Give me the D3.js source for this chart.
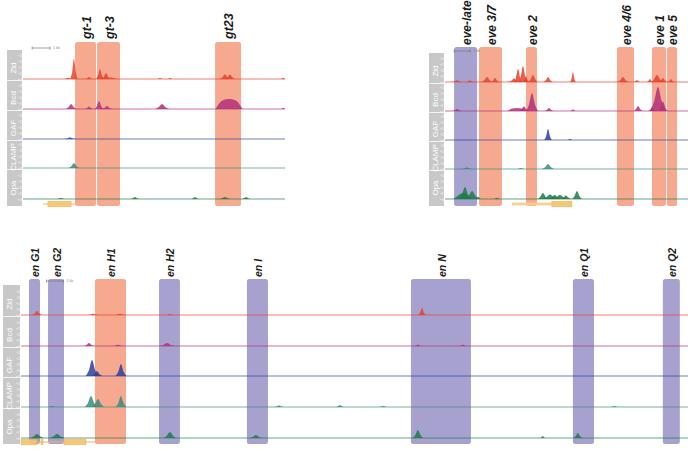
<!DOCTYPE html>
<html><head><meta charset="utf-8">
<script src="https://cdn.jsdelivr.net/npm/d3@7"></script>
<style>body{margin:0;background:#fff} svg{display:block}</style>
</head><body>
<svg id="c" width="688" height="449"></svg>
<script>
// ---------------- DATA ----------------
const trackNames = ["Zld", "Bcd", "GAF", "CLAMP", "Opa"];
const signalTicks = [0, 5, 10, 15, 20];
const scaleBarLabel = "1 kb";

// peaks: [position (kb), signal, half-width (kb), shoulder]
// Panel A : giant locus
const gtEnhancers = ["gt-1", "gt-3", "gt23"];
const gtStart = [2.79, 4.02, 10.60];
const gtEnd = [3.96, 5.30, 12.05];
const gtType = ["early", "early", "early"];
const gtZld = [[2.4,0.8,0.3],[2.73,16.7,0.2],[3.57,1.7,0.2],[4.18,8.3,0.22],[4.52,5,0.25],[4.8,1.2,0.4],[7.53,0.8,0.2],[8.09,0.8,0.2],[11.15,3.8,0.3],[11.43,3.8,0.3],[14.4,1,0.12]];
const gtBcd = [[2.57,4.2,0.3],[3.57,2.1,0.22],[4.13,6.7,0.25],[4.57,2.5,0.3],[7.64,4.2,0.4],[11.38,8.3,0.75,0.85],[14.4,1,0.12]];
const gtGAF = [[2.51,1.2,0.35]];
const gtCLAMP = [[2.73,4.2,0.3]];
const gtOpa = [[2.0,0.8,0.3],[6.13,1.7,0.25],[9.48,1.7,0.2],[11.15,1.7,0.35],[12.33,1.7,0.25]];
const gtGeneLine = [1.0, 2.79];
const gtGeneUTR = [];
const gtGeneExons = [[1.28, 2.57]];

// Panel B : even-skipped locus
const eveEnhancers = ["eve-late", "eve 3/7", "eve 2", "eve 4/6", "eve 1", "eve 5"];
const eveStart = [0.44, 1.99, 4.92, 10.58, 12.76, 13.69];
const eveEnd = [1.87, 3.42, 5.60, 11.64, 13.63, 14.32];
const eveType = ["late", "early", "early", "early", "early", "early"];
const eveZld = [[0.62,1.5,0.3],[1.43,1.2,0.3],[2.49,4.2,0.35],[2.99,3.3,0.25],[4.17,3,0.35],[4.42,10.8,0.25],[4.73,13.3,0.28],[4.92,5,0.2],[5.35,5.8,0.3],[6.29,4.2,0.28],[7.84,8.3,0.17],[10.95,4.2,0.35],[11.82,1.7,0.2],[12.63,2.5,0.2],[13.07,5.8,0.4],[13.44,3.3,0.25],[13.94,2.5,0.2]];
const eveBcd = [[0.62,1.7,0.3],[4.36,2.5,0.6,0.8],[4.79,4,0.3],[5.29,15,0.38],[6.35,2.5,0.28],[7.84,1.5,0.15],[11.89,4.2,0.28],[12.76,3.3,0.22],[13.13,20,0.48,0.4],[13.44,8,0.3]];
const eveGAF = [[6.29,9.2,0.24],[7.65,0.8,0.2]];
const eveCLAMP = [[1.24,1.2,0.4],[4.6,0.8,0.3],[6.29,4.2,0.38]];
const eveOpa = [[1.0,5,0.6,0.6],[1.12,10,0.4],[1.56,6.7,0.45],[1.93,2,0.2],[3.11,1,0.2],[5.97,5,0.35],[6.41,3.8,0.5],[6.7,3.3,0.4],[7.03,3.3,0.5],[7.4,3,0.35],[8.09,6.7,0.32]];
const eveGeneLine = [4.04, 7.78];
const eveGeneUTR = [[4.04, 6.53]];
const eveGeneExons = [[6.53, 7.78]];

// Panel C : engrailed locus
const enEnhancers = ["en G1", "en G2", "en H1", "en H2", "en I", "en N", "en Q1", "en Q2"];
const enStart = [0.47, 1.59, 4.35, 8.12, 13.29, 22.94, 32.47, 37.76];
const enEnd = [1.12, 2.53, 6.18, 9.35, 14.53, 26.47, 33.71, 38.76];
const enType = ["late", "late", "early", "late", "late", "late", "late", "late"];
const enZld = [[0.94,3.3,0.28],[4.24,1,0.3],[5.82,1,0.3],[8.76,0.8,0.3],[23.59,5.8,0.22]];
const enBcd = [[4.0,2.5,0.3],[5.71,1,0.3],[8.59,2.5,0.45],[23.35,1.2,0.2],[26.0,1,0.2]];
const enGAF = [[4.18,13.3,0.38],[4.47,4.2,0.32],[5.88,10,0.32]];
const enCLAMP = [[1.82,0.8,0.3],[4.12,9.2,0.38],[4.53,6.7,0.38],[5.88,9.2,0.32],[15.18,1.2,0.3],[18.76,1.7,0.25],[21.3,0.8,0.3],[34.9,0.8,0.3]];
const enOpa = [[0.94,3.3,0.4],[2.12,3.3,0.45],[8.76,5,0.38],[13.82,2.5,0.38],[23.35,6.7,0.32],[30.7,1.7,0.15],[32.76,4.2,0.27]];
const enGeneLine = [0, 4.35];
const enGeneUTR = [];
const enGeneExons = [[0, 0.94], [1.18, 1.29], [2.53, 3.82]];

// ---------------- STYLE / LAYOUT ----------------
const trackColors = ["#e8412e", "#b2307d", "#2e3e9c", "#3b8c80", "#1f7a48"];
const boxColors = { early: "#f6a98f", late: "#a6a1cf" };
const font = "'Liberation Sans', Arial, sans-serif";

const panels = [
  { name: "A", kbMax: 14.5, x0: 25, x1: 285, col: [7, 22], colY: [50, 206],
    baselines: [79, 109, 139, 168, 199], boxY: [42, 206], labelY: 39, labelSize: 12.5,
    geneY: 204, barY: 48, barKb: 0.4,
    enh: gtEnhancers, start: gtStart, end: gtEnd, type: gtType,
    tracks: [gtZld, gtBcd, gtGAF, gtCLAMP, gtOpa],
    geneLine: gtGeneLine, geneUTR: gtGeneUTR, geneExons: gtGeneExons },
  { name: "B", kbMax: 15.0, x0: 447, x1: 688, col: [429, 444], colY: [53, 206],
    baselines: [82, 111, 140, 169, 199], boxY: [47, 206], labelY: 45, labelSize: 12,
    geneY: 204, barY: 51, barKb: 0.45,
    enh: eveEnhancers, start: eveStart, end: eveEnd, type: eveType,
    tracks: [eveZld, eveBcd, eveGAF, eveCLAMP, eveOpa],
    geneLine: eveGeneLine, geneUTR: eveGeneUTR, geneExons: eveGeneExons },
  { name: "C", kbMax: 39.24, x0: 21, x1: 688, col: [3, 20], colY: [285, 444],
    baselines: [315, 346, 376, 407, 438], boxY: [279, 444], labelY: 277, labelSize: 10.5,
    geneY: 442, barY: 281, barKb: 1.5,
    enh: enEnhancers, start: enStart, end: enEnd, type: enType,
    tracks: [enZld, enBcd, enGAF, enCLAMP, enOpa],
    geneLine: enGeneLine, geneUTR: enGeneUTR, geneExons: enGeneExons }
];

const svg = d3.select("#c");

function peakPoints(p) {
  const [c, h, w, s] = p;
  const sh = s === undefined ? 0.35 : s;
  return [[c - w, 0], [c - w * 0.5, h * sh], [c, h], [c + w * 0.5, h * sh], [c + w, 0]];
}

panels.forEach(P => {
  const g = svg.append("g").attr("class", "panel-" + P.name);
  const x = d3.scaleLinear().domain([0, P.kbMax]).range([P.x0, P.x1]);

  // enhancer boxes
  const boxes = P.enh.map((n, i) => ({ name: n, s: P.start[i], e: P.end[i], t: P.type[i] }));
  g.selectAll("rect.box").data(boxes).join("rect").attr("class", "box")
    .attr("x", d => x(d.s)).attr("width", d => x(d.e) - x(d.s))
    .attr("y", P.boxY[0]).attr("height", P.boxY[1] - P.boxY[0])
    .attr("rx", 2.5).attr("fill", d => boxColors[d.t]);

  // labels
  g.selectAll("text.enh").data(boxes).join("text").attr("class", "enh")
    .attr("transform", d => `translate(${(x(d.s) + x(d.e)) / 2 + 1},${P.labelY}) rotate(-90)`)
    .attr("dy", "0.35em")
    .attr("font-family", font).attr("font-size", P.labelSize)
    .attr("font-style", "italic").attr("font-weight", "bold").attr("fill", "#1a1a1a")
    .text(d => d.name);

  // gray label column
  g.append("rect").attr("x", P.col[0]).attr("y", P.colY[0])
    .attr("width", P.col[1] - P.col[0]).attr("height", P.colY[1] - P.colY[0])
    .attr("fill", "#c8c8c8");

  P.baselines.forEach((b, ti) => {
    const y = d3.scaleLinear().domain([0, 20]).range([b, b - 24]);
    if (ti < 4) {
      g.append("line").attr("x1", P.col[0]).attr("x2", P.col[1])
        .attr("y1", b + 1.5).attr("y2", b + 1.5).attr("stroke", "#fff").attr("stroke-width", 0.8);
    }
    g.append("text")
      .attr("transform", `translate(${P.col[0] + 6},${b - 11}) rotate(-90)`)
      .attr("text-anchor", "middle").attr("dy", "0.35em")
      .attr("font-family", font).attr("font-size", 8).attr("fill", "#fff")
      .text(trackNames[ti]);
    const ax = g.append("g").attr("transform", `translate(${P.col[1] - 4},0)`)
      .call(d3.axisRight(y).tickValues(signalTicks).tickSize(1.2).tickPadding(0.5));
    ax.select(".domain").remove();
    ax.selectAll("line").attr("stroke", "#fff").attr("stroke-width", 0.5);
    ax.selectAll("text").attr("fill", "#fff").attr("font-size", 3.5).attr("font-family", font);

    g.append("line").attr("x1", P.col[1] + 1).attr("x2", P.x1)
      .attr("y1", b).attr("y2", b)
      .attr("stroke", trackColors[ti]).attr("stroke-width", 0.9).attr("opacity", 0.75);

    const area = d3.area().x(d => x(d[0])).y0(b).y1(d => y(d[1])).curve(d3.curveMonotoneX);
    g.selectAll("path.pk" + ti).data(P.tracks[ti]).join("path").attr("class", "pk" + ti)
      .attr("d", d => area(peakPoints(d)))
      .attr("fill", trackColors[ti]).attr("fill-opacity", 0.85);
  });

  // scale bar
  const bx0 = x(P.barKb), bx1 = x(P.barKb + 1);
  g.append("line").attr("x1", bx0).attr("x2", bx1).attr("y1", P.barY).attr("y2", P.barY)
    .attr("stroke", "#777").attr("stroke-width", 0.7);
  [bx0, bx1].forEach(v => g.append("line").attr("x1", v).attr("x2", v)
    .attr("y1", P.barY - 1.5).attr("y2", P.barY + 1.5).attr("stroke", "#777").attr("stroke-width", 0.7));
  g.append("text").attr("x", bx1 + 3).attr("y", P.barY + 1.2)
    .attr("font-family", font).attr("font-size", 3.5).attr("fill", "#888").text(scaleBarLabel);

  // gene model
  g.append("line").attr("x1", x(P.geneLine[0])).attr("x2", x(P.geneLine[1]))
    .attr("y1", P.geneY).attr("y2", P.geneY).attr("stroke", "#efb75a").attr("stroke-width", 1);
  g.selectAll("rect.utr").data(P.geneUTR).join("rect").attr("class", "utr")
    .attr("x", d => x(d[0])).attr("width", d => x(d[1]) - x(d[0]))
    .attr("y", P.geneY - 1.5).attr("height", 3).attr("fill", "#f6cf8e").attr("opacity", 0.9);
  g.selectAll("rect.exon").data(P.geneExons).join("rect").attr("class", "exon")
    .attr("x", d => x(d[0])).attr("width", d => x(d[1]) - x(d[0]))
    .attr("y", P.geneY - 2.8).attr("height", 5.6).attr("fill", "#f7c46f")
    .attr("stroke", "#e9a84a").attr("stroke-width", 0.5).attr("opacity", 0.9);
});
</script>
</body></html>
